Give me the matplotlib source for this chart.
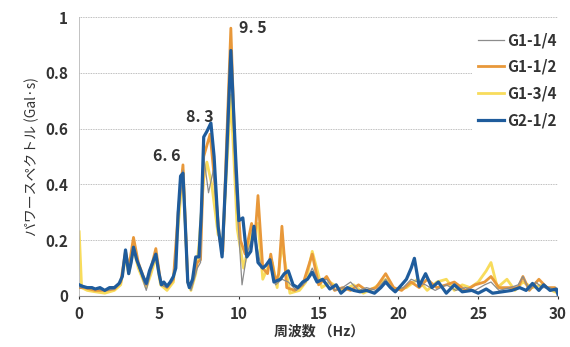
import matplotlib.pyplot as plt

plt.rcParams['font.family'] = ['Noto Sans CJK JP', 'DejaVu Sans']

# G2-1/2
f_g2 = [0, 0.2, 0.5, 0.8, 1.0, 1.3, 1.6, 1.9, 2.2, 2.5, 2.7, 2.9, 3.1, 3.25, 3.4, 3.6, 3.8,
        4.0, 4.2, 4.4, 4.6, 4.8, 5.0, 5.15, 5.3, 5.5, 5.7, 5.9, 6.05, 6.2, 6.35, 6.5, 6.65,
        6.8, 6.9, 7.1, 7.3, 7.5, 7.65, 7.8, 8.0, 8.25, 8.45, 8.7, 8.95, 9.2, 9.5, 9.8, 10.0,
        10.25, 10.5, 10.75, 10.95, 11.2, 11.5, 11.7, 11.95, 12.2, 12.6, 12.85, 13.1, 13.4,
        13.7, 14.0, 14.3, 14.6, 14.9, 15.25, 15.7, 16.1, 16.4, 16.8, 17.2, 17.6, 18.0, 18.5,
        18.9, 19.2, 19.5, 19.8, 20.2, 20.5, 20.8, 21.0, 21.3, 21.7, 22.1, 22.5, 23.0, 23.5,
        24.0, 24.6, 25.0, 25.5, 25.9, 26.5, 27.1, 27.6, 28.0, 28.4, 28.8, 29.1, 29.5, 29.9, 30.0]
v_g2 = [0.04, 0.035, 0.03, 0.03, 0.025, 0.03, 0.02, 0.03, 0.03, 0.045, 0.07, 0.165, 0.08,
        0.12, 0.175, 0.13, 0.1, 0.07, 0.045, 0.09, 0.12, 0.15, 0.08, 0.04, 0.05, 0.035, 0.05,
        0.07, 0.1, 0.3, 0.43, 0.44, 0.25, 0.05, 0.03, 0.06, 0.14, 0.14, 0.3, 0.57, 0.59, 0.62,
        0.5, 0.25, 0.14, 0.45, 0.88, 0.5, 0.27, 0.28, 0.14, 0.16, 0.25, 0.12, 0.1, 0.11, 0.13,
        0.05, 0.06, 0.08, 0.09, 0.04, 0.03, 0.05, 0.06, 0.085, 0.05, 0.06, 0.025, 0.04, 0.01,
        0.03, 0.02, 0.015, 0.02, 0.01, 0.03, 0.05, 0.03, 0.015, 0.04, 0.06, 0.1, 0.135, 0.035,
        0.08, 0.03, 0.05, 0.01, 0.04, 0.015, 0.02, 0.01, 0.025, 0.01, 0.015, 0.02, 0.03, 0.02,
        0.045, 0.02, 0.04, 0.02, 0.025, 0.005]

# G1-1/4
f_q1 = [0, 0.3, 1.0, 1.6, 2.2, 2.6, 2.9, 3.1, 3.4, 3.7, 4.2, 4.5, 4.8, 5.1, 5.5, 5.9, 6.2,
        6.5, 6.8, 7.0, 7.4, 7.6, 7.8, 8.1, 8.4, 8.7, 9.0, 9.2, 9.5, 9.8, 10.2, 10.5, 10.8,
        11.0, 11.4, 11.9, 12.3, 12.7, 13.1, 13.6, 14.2, 14.6, 15.0, 15.5, 16.0, 16.5, 17.0,
        17.5, 18.0, 18.6, 19.2, 19.7, 20.3, 20.8, 21.2, 21.7, 22.3, 23.0, 23.6, 24.2, 24.8,
        25.4, 25.8, 26.3, 27.0, 27.5, 27.8, 28.2, 28.6, 29.0, 29.5, 30.0]
v_q1 = [0.03, 0.03, 0.025, 0.02, 0.025, 0.05, 0.15, 0.09, 0.17, 0.11, 0.02, 0.09, 0.14,
        0.04, 0.03, 0.06, 0.28, 0.45, 0.06, 0.02, 0.1, 0.12, 0.5, 0.37, 0.45, 0.25, 0.15,
        0.4, 0.84, 0.4, 0.04, 0.15, 0.2, 0.22, 0.1, 0.12, 0.04, 0.06, 0.05, 0.02, 0.05, 0.1,
        0.05, 0.06, 0.02, 0.03, 0.05, 0.02, 0.03, 0.02, 0.06, 0.02, 0.03, 0.06, 0.05, 0.04,
        0.02, 0.04, 0.02, 0.03, 0.02, 0.04, 0.05, 0.02, 0.03, 0.04, 0.07, 0.02, 0.05, 0.03,
        0.03, 0.01]

# G1-1/2
f_h1 = [0, 0.3, 1.0, 1.6, 2.2, 2.6, 2.9, 3.1, 3.4, 3.7, 4.2, 4.5, 4.8, 5.1, 5.5, 5.9, 6.2,
        6.5, 6.8, 7.0, 7.4, 7.6, 7.8, 8.2, 8.5, 8.8, 9.0, 9.2, 9.5, 9.8, 10.1, 10.4, 10.8,
        11.0, 11.2, 11.5, 11.8, 12.0, 12.3, 12.5, 12.7, 13.0, 13.5, 14.0, 14.6, 15.0, 15.5,
        16.0, 16.5, 17.0, 17.5, 18.0, 18.6, 19.2, 19.7, 20.2, 20.8, 21.3, 21.8, 22.4, 23.0,
        23.5, 24.2, 24.8, 25.4, 25.8, 26.3, 27.0, 27.5, 27.8, 28.2, 28.8, 29.3, 29.8, 30.0]
v_h1 = [0.03, 0.03, 0.02, 0.02, 0.025, 0.05, 0.16, 0.1, 0.21, 0.12, 0.04, 0.1, 0.17, 0.05,
        0.03, 0.06, 0.3, 0.47, 0.05, 0.03, 0.12, 0.13, 0.5, 0.58, 0.4, 0.2, 0.16, 0.5, 0.96,
        0.45, 0.2, 0.15, 0.26, 0.2, 0.36, 0.1, 0.08, 0.15, 0.05, 0.08, 0.25, 0.03, 0.02, 0.04,
        0.15, 0.04, 0.07, 0.02, 0.03, 0.02, 0.04, 0.02, 0.03, 0.08, 0.03, 0.02, 0.05, 0.03,
        0.06, 0.03, 0.04, 0.05, 0.02, 0.04, 0.05, 0.07, 0.03, 0.03, 0.03, 0.07, 0.02, 0.06,
        0.03, 0.03, 0.01]

# G1-3/4
f_t1 = [0, 0.15, 0.5, 1.0, 1.6, 2.2, 2.6, 2.9, 3.1, 3.4, 3.7, 4.2, 4.5, 4.8, 5.1, 5.5, 5.9,
        6.2, 6.5, 6.8, 7.0, 7.3, 7.5, 7.8, 8.0, 8.3, 8.7, 9.0, 9.2, 9.5, 9.9, 10.3, 10.8,
        11.2, 11.5, 11.8, 12.1, 12.4, 12.7, 13.2, 13.8, 14.2, 14.6, 15.2, 15.7, 16.5, 17.2,
        17.8, 18.5, 19.2, 19.7, 20.5, 21.2, 21.8, 22.4, 23.0, 23.5, 24.0, 24.5, 25.0, 25.5,
        25.8, 26.2, 26.8, 27.3, 27.8, 28.4, 29.0, 29.6, 30.0]
v_t1 = [0.23, 0.03, 0.02, 0.015, 0.01, 0.02, 0.04, 0.14, 0.08, 0.17, 0.1, 0.03, 0.08, 0.14,
        0.04, 0.02, 0.05, 0.25, 0.45, 0.05, 0.02, 0.08, 0.18, 0.42, 0.48, 0.4, 0.22, 0.2,
        0.42, 0.72, 0.24, 0.1, 0.23, 0.26, 0.06, 0.1, 0.12, 0.03, 0.19, 0.01, 0.02, 0.05,
        0.16, 0.03, 0.05, 0.02, 0.04, 0.01, 0.03, 0.06, 0.02, 0.03, 0.06, 0.02, 0.05, 0.06,
        0.02, 0.04, 0.03, 0.05, 0.09, 0.12, 0.03, 0.06, 0.02, 0.05, 0.03, 0.04, 0.02, 0.01]

peak_labels = ['6. 6', '8. 3', '9. 5']
peak_pos = [(5.5, 0.50), (7.55, 0.64), (10.9, 0.96)]

fig = plt.figure(figsize=(5.7, 3.47), dpi=100)
ax = fig.add_axes([0.139, 0.147, 0.84, 0.804])

ax.plot(f_q1, v_q1, color='#8c8c8c', lw=0.9, label='G1-1/4', zorder=4)
ax.plot(f_h1, v_h1, color='#e8983a', lw=2.0, label='G1-1/2', zorder=3)
ax.plot(f_t1, v_t1, color='#f8dc5c', lw=2.0, label='G1-3/4', zorder=2)
ax.plot(f_g2, v_g2, color='#1f5c9c', lw=2.3, label='G2-1/2', zorder=5)

for txt, (x, y) in zip(peak_labels, peak_pos):
    ax.text(x, y, txt, ha='center', va='center', fontsize=11.5, fontweight='bold',
            color='#333333', zorder=6)

ax.set_xlim(0, 30)
ax.set_ylim(0, 1)
ax.set_xticks(range(0, 31, 5))
ax.set_yticks([0, 0.2, 0.4, 0.6, 0.8, 1])
ax.set_yticklabels(['0', '0.2', '0.4', '0.6', '0.8', '1'])
ax.grid(axis='y', color='#a8a8a8', lw=0.6, ls=(0, (1, 1)))
ax.set_axisbelow(True)
for s in ['top', 'right']:
    ax.spines[s].set_visible(False)
ax.spines['left'].set_color('#b8b8b8')
ax.spines['left'].set_linewidth(0.6)
ax.spines['bottom'].set_color('#8a8a8a')
ax.spines['bottom'].set_linewidth(0.8)
ax.tick_params(axis='y', length=0, labelsize=11, colors='#333333', pad=8)
ax.tick_params(axis='x', length=2, labelsize=11, colors='#333333', pad=5)
for lab in ax.get_xticklabels() + ax.get_yticklabels():
    lab.set_fontweight('bold')

ax.set_xlabel('周波数 （Hz）', fontsize=10, fontweight='bold', color='#333333', labelpad=2)
ax.set_ylabel('パワースペクトル (Gal·s)', fontsize=10, color='#333333', labelpad=4)

leg = ax.legend(loc='upper left', bbox_to_anchor=(0.805, 0.995), frameon=True,
                prop={'size': 11, 'weight': 'bold'}, handlelength=1.7, handletextpad=0.15,
                labelspacing=0.7, borderpad=0.4)
leg.get_frame().set_facecolor('white')
leg.get_frame().set_edgecolor('none')
leg.get_frame().set_alpha(1)
for t in leg.get_texts():
    t.set_color('#333333')

fig.savefig('out.png', dpi=100)
